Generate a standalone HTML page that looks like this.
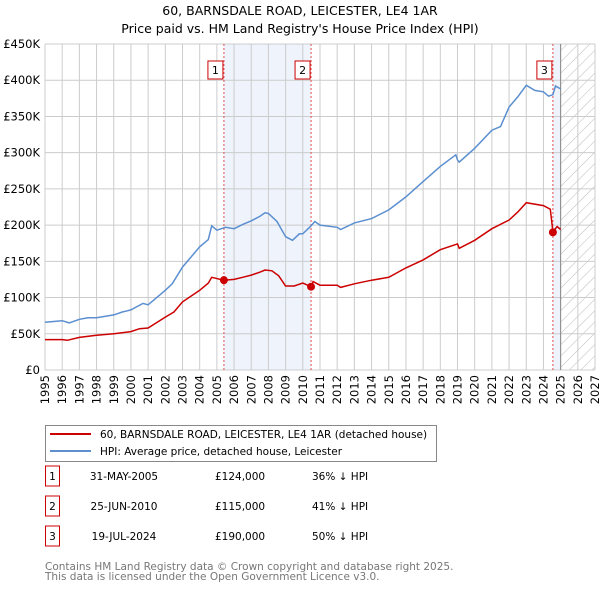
<!DOCTYPE html>
<html><head><meta charset="utf-8">
<style>
body{margin:0;background:#fff;font-family:"DejaVu Sans","Liberation Sans",sans-serif;}
svg text{font-family:"DejaVu Sans","Liberation Sans",sans-serif;}
</style></head>
<body>
<svg id="chart" width="600" height="590" xmlns="http://www.w3.org/2000/svg">
<defs>
<pattern id="hatch" width="8" height="8" patternUnits="userSpaceOnUse" patternTransform="rotate(45)">
<line x1="0" y1="0" x2="0" y2="8" stroke="#bbb" stroke-width="1"/>
</pattern>
</defs>
<text x="300" y="15" text-anchor="middle" font-size="12.5">60, BARNSDALE ROAD, LEICESTER, LE4 1AR</text>
<text x="300" y="33" text-anchor="middle" font-size="12.5">Price paid vs. HM Land Registry's House Price Index (HPI)</text>
<g id="plot"></g>
<g>
<rect x="45.5" y="425.5" width="391" height="36" fill="#fff" stroke="#888"/>
<line x1="50" y1="434" x2="91" y2="434" stroke="#cc0000" stroke-width="2"/>
<text x="100" y="438" font-size="10.5">60, BARNSDALE ROAD, LEICESTER, LE4 1AR (detached house)</text>
<line x1="50" y1="451" x2="91" y2="451" stroke="#5b8fd0" stroke-width="2"/>
<text x="100" y="455" font-size="10.5">HPI: Average price, detached house, Leicester</text>
</g>
<g id="table" font-size="10.5"></g>
<text x="45" y="570" font-size="10.5" fill="#777">Contains HM Land Registry data © Crown copyright and database right 2025.</text>
<text x="45" y="580" font-size="10.5" fill="#777">This data is licensed under the Open Government Licence v3.0.</text>
</svg>
<script>
const hpiYears=[1995,1996,1996.4,1997,1997.5,1998,1999,1999.5,2000,2000.7,2001,2002,2002.4,2003,2004,2004.5,2004.7,2005,2005.5,2006,2006.5,2007,2007.5,2007.8,2008,2008.5,2009,2009.4,2009.8,2010,2010.48,2010.7,2011,2012,2012.2,2013,2014,2015,2016,2017,2018,2018.9,2019,2019.1,2020,2021,2021.5,2022,2022.5,2023,2023.5,2024,2024.3,2024.55,2024.7,2025];
const hpiValues=[66,68,65,70,72,72,76,80,83,92,90,110,119,142,170,180,199,193,197,195,201,206,212,217,216,205,184,179,188,188,199,205,200,197,194,203,209,221,239,260,281,297,290,287,306,331,336,363,377,393,386,384,378,380,392,388];
const priceYears=[1995,1996,1996.3,1997,1998,1999,2000,2000.5,2001,2002,2002.5,2003,2004,2004.5,2004.7,2005.41,2006,2006.5,2007,2007.5,2007.8,2008.2,2008.6,2009,2009.5,2010,2010.48,2010.6,2011,2012,2012.2,2013,2014,2015,2016,2017,2018,2019,2019.1,2020,2021,2022,2022.5,2023,2024,2024.4,2024.55,2024.8,2025];
const priceValues=[42,42,41,45,48,50,53,57,58,73,80,94,110,120,128,124,125,128,131,135,138,137,130,116,116,120,115,122,117,117,114,119,124,128,141,152,166,174,168,179,195,207,218,231,227,222,191,198,194];
const saleYears=[2005.41,2010.48,2024.55];
const saleValues=[124,115,190];
const saleLabels=["1","2","3"];
const saleDates=["31-MAY-2005","25-JUN-2010","19-JUL-2024"];
const salePrices=["£124,000","£115,000","£190,000"];
const saleHpi=["36% ↓ HPI","41% ↓ HPI","50% ↓ HPI"];
const yTicks=[0,50,100,150,200,250,300,350,400,450];
const yTickLabels=["£0","£50K","£100K","£150K","£200K","£250K","£300K","£350K","£400K","£450K"];
const xTicks=[1995,1996,1997,1998,1999,2000,2001,2002,2003,2004,2005,2006,2007,2008,2009,2010,2011,2012,2013,2014,2015,2016,2017,2018,2019,2020,2021,2022,2023,2024,2025,2026,2027];

const NS="http://www.w3.org/2000/svg";
const L=45,R=595,T=44,B=370;
const X=y=>L+(y-1995)*(R-L)/32;
const Y=v=>B-v*(B-T)/450;
const plot=document.getElementById('plot');
function mk(tag,attrs,parent){const e=document.createElementNS(NS,tag);for(const k in attrs)e.setAttribute(k,attrs[k]);(parent||plot).appendChild(e);return e;}

// shaded bands
let b=mk('rect',{x:X(saleYears[0]),y:T,width:X(saleYears[1])-X(saleYears[0]),height:B-T,fill:'#eef3fc'});


b=mk('rect',{x:X(saleYears[2]),y:T,width:X(2025)-X(saleYears[2]),height:B-T,fill:'#eef3fc'});


b=mk('rect',{x:X(2025),y:T,width:R-X(2025),height:B-T,fill:'url(#hatch)'});



// grid
xTicks.forEach(t=>{const g=mk('line',{x1:X(t),x2:X(t),y1:T,y2:B,stroke:'#ccc','stroke-width':1});


const tx=mk('text',{x:0,y:0,'font-size':11.5,'text-anchor':'end',transform:`translate(${X(t)+4},${B+5}) rotate(-90)`});tx.textContent=t;

});
yTicks.forEach((t,i)=>{const g=mk('line',{x1:L,x2:R,y1:Y(t),y2:Y(t),stroke:'#ccc','stroke-width':1});


const tx=mk('text',{x:L-5,y:Y(t)+4,'font-size':11.5,'text-anchor':'end'});tx.textContent=yTickLabels[i];

});
const vl=mk('line',{x1:X(2025),x2:X(2025),y1:T,y2:B,stroke:'#888','stroke-width':1});



// sale markers lines
saleYears.forEach((s,i)=>{const l=mk('line',{x1:X(s),x2:X(s),y1:T,y2:B,stroke:'#e05050','stroke-width':1,'stroke-dasharray':'2,2'});


const r=mk('rect',{x:X(s)-16,y:61,width:15,height:18,fill:'#fff',stroke:'#cc0000'});


const t=mk('text',{x:X(s)-8.5,y:74,'font-size':11,'text-anchor':'middle'});t.textContent=saleLabels[i];

});

function path(xs,vs){return xs.map((x,i)=>(i?'L':'M')+X(x).toFixed(1)+','+Y(vs[i]).toFixed(1)).join('');}
const hp=mk('path',{d:path(hpiYears,hpiValues),fill:'none',stroke:'#5b8fd0','stroke-width':1.5});


const pp=mk('path',{d:path(priceYears,priceValues),fill:'none',stroke:'#cc0000','stroke-width':1.5});


saleYears.forEach((s,i)=>{const c=mk('circle',{cx:X(s),cy:Y(saleValues[i]),r:4,fill:'#cc0000'});

});

// table
const tb=document.getElementById('table');
saleLabels.forEach((lab,i)=>{const y0=476+i*30;
const r=mk('rect',{x:45.5,y:y0-10,width:14,height:20,fill:'#fff',stroke:'#cc0000'},tb);


const cells=[[52.5,lab,'middle'],[124,saleDates[i],'middle'],[215,salePrices[i],'start'],[312,saleHpi[i],'start']];
cells.forEach(c=>{const t=mk('text',{x:c[0],y:y0+4,'text-anchor':c[2]},tb);t.textContent=c[1];

});});
</script>
</body></html>
